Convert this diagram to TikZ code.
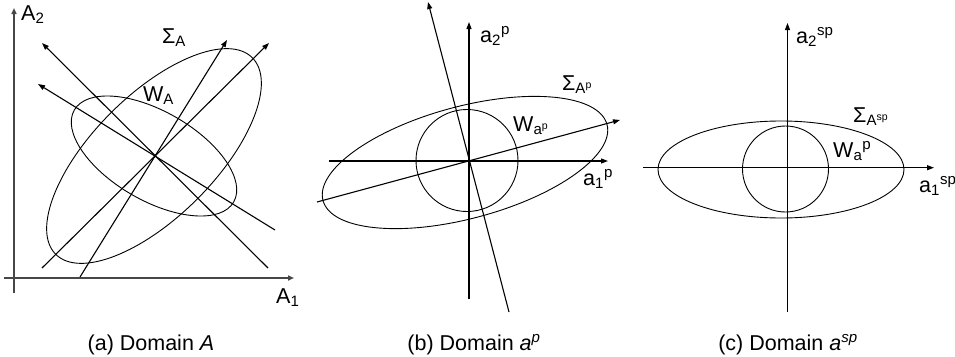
\documentclass[tikz,border=0pt]{standalone}
\usepackage{fontspec}
\setmainfont{Liberation Sans}
\usetikzlibrary{arrows.meta}
\begin{document}
\begin{tikzpicture}[x=1pt,y=-1pt,
  lbl/.style={inner sep=0pt,anchor=base west,font=\fontsize{21.5}{25}\selectfont},
  captext/.style={inner sep=0pt,anchor=base,font=\fontsize{21.5}{25}\selectfont},
  axisa/.style={line width=1.8pt,draw=black!72,-{Triangle[length=6pt,width=5pt]}},
  axis/.style={line width=1.1pt,-{Triangle[length=7pt,width=5pt]}},
  dirline/.style={line width=1.1pt,-{Triangle[length=7pt,width=5pt]}},
  ell/.style={line width=0.9pt}]
\useasboundingbox (0,0) rectangle (955,356);
% ---------- panel (a)
\coordinate (Ca) at (154,156);
\coordinate (aYb) at (14,293); \coordinate (aYt) at (14,8);
\coordinate (aXl) at (4,278);  \coordinate (aXr) at (294,278);
\draw[axisa] (aYb) -- (aYt);
\draw[axisa] (aXl) -- (aXr);
\coordinate (l1s) at (268,268); \coordinate (l1e) at (42,43);
\coordinate (l2s) at (275,230); \coordinate (l2e) at (38,84);
\coordinate (l3s) at (80,277);  \coordinate (l3e) at (227,40);
\coordinate (l4s) at (42,268);  \coordinate (l4e) at (269,43);
\draw[dirline] (l1s) -- (l1e);
\draw[dirline] (l2s) -- (l2e);
\draw[dirline] (l3s) -- (l3e);
\draw[dirline] (l4s) -- (l4e);
\draw[ell,rotate around={45:(Ca)}] (Ca) ellipse [x radius=139pt,y radius=61pt];
\draw[ell,rotate around={-30:(Ca)}] (Ca) ellipse [x radius=92pt,y radius=44.5pt];
\node[lbl] (A2) at (21,20) {A\textsubscript{2}};
\node[lbl] (A1) at (276,303) {A\textsubscript{1}};
\node[lbl] (SA) at (162,43) {Σ\textsubscript{A}};
\node[lbl] (WA) at (143,101) {W\textsubscript{A}};
\node[captext] (capa) at (151,350) {(a) Domain \textit{A}};
% ---------- panel (b)
\coordinate (Ob) at (469,161);
\coordinate (Sb) at (465,162.5);
\coordinate (bYb) at (469,299); \coordinate (bYt) at (469,22);
\coordinate (bXl) at (329,161); \coordinate (bXr) at (608,161);
\draw[axis] (bYb) -- (bYt);
\draw[axis] (bXl) -- (bXr);
\coordinate (b1s) at (509,312); \coordinate (b1e) at (428,2);
\coordinate (b2s) at (317,202); \coordinate (b2e) at (620,120);
\draw[dirline] (b1s) -- (b1e);
\draw[dirline] (b2s) -- (b2e);
\draw[ell] (467,160.5) circle [radius=51pt];
\draw[ell,rotate around={15:(Sb)}] (Sb) ellipse [x radius=147pt,y radius=56pt];
\node[lbl] (a2p) at (480,42) {a\textsubscript{2}\textsuperscript{p}};
\node[lbl] (a1p) at (583,185) {a\textsubscript{1}\textsuperscript{p}};
\node[lbl] (SAp) at (562,90) {Σ\textsubscript{A\textsuperscript{p}}};
\node[lbl] (Wap) at (513,131) {W\textsubscript{a\textsuperscript{p}}};
\node[captext] (capb) at (474,350) {(b) Domain \textit{a}\textsuperscript{\textit{p}}};
% ---------- panel (c)
\coordinate (Sc) at (781,169.5);
\coordinate (cYb) at (787.5,312); \coordinate (cYt) at (787.5,23);
\coordinate (cXl) at (643,167.7); \coordinate (cXr) at (934,167.7);
\draw[axis] (cYb) -- (cYt);
\draw[axis] (cXl) -- (cXr);
\draw[ell] (Sc) ellipse [x radius=123pt,y radius=48.5pt];
\draw[ell] (785.5,169) circle [radius=43pt];
\node[lbl] (a2sp) at (796,43) {a\textsubscript{2}\textsuperscript{sp}};
\node[lbl] (a1sp) at (919,192) {a\textsubscript{1}\textsuperscript{sp}};
\node[lbl] (SAsp) at (853,122) {Σ\textsubscript{A\textsuperscript{sp}}};
\node[lbl] (Wasp) at (833,157) {W\textsubscript{a}\textsuperscript{p}};
\node[captext] (capc) at (788,350) {(c) Domain \textit{a}\textsuperscript{\textit{sp}}};
\end{tikzpicture}
\end{document}
